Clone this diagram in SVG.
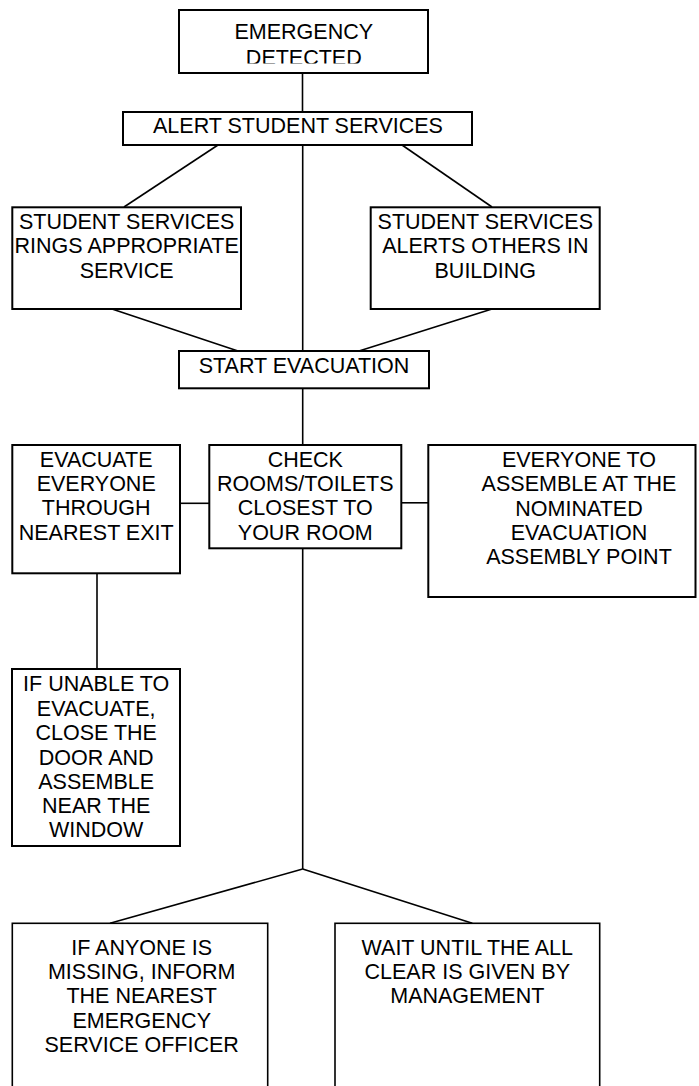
<svg xmlns="http://www.w3.org/2000/svg" width="699" height="1086" viewBox="0 0 699 1086">
<style>
.box{fill:#fff;stroke:#000;stroke-width:2}
.thin{stroke-width:1.6}
.ln{fill:none;stroke:#000;stroke-width:1.6}
text{font-family:"Liberation Sans",Arial,Helvetica,sans-serif;font-size:21.5px;fill:#000;text-anchor:middle}
</style>
<defs>
<clipPath id="clipTop"><rect x="179" y="10" width="249" height="53.5"/></clipPath>
</defs>
<rect width="699" height="1086" fill="#fff"/>
<g id="connectors">
<line class="ln" x1="302.5" y1="73" x2="302.5" y2="112"/>
<line class="ln" x1="218" y1="145" x2="124" y2="207"/>
<line class="ln" x1="302.7" y1="145" x2="302.7" y2="351"/>
<line class="ln" x1="402" y1="145" x2="492" y2="207"/>
<line class="ln" x1="112" y1="309" x2="238" y2="351"/>
<line class="ln" x1="492" y1="309" x2="359" y2="351"/>
<line class="ln" x1="302.7" y1="388" x2="302.7" y2="445"/>
<line class="ln" x1="180" y1="503.3" x2="209.3" y2="503.3"/>
<line class="ln" x1="401.3" y1="502.8" x2="428.3" y2="502.8"/>
<line class="ln" x1="97" y1="573" x2="97" y2="669"/>
<line class="ln" x1="302.7" y1="548" x2="302.7" y2="869"/>
<line class="ln" x1="302.7" y1="869" x2="110" y2="923.3"/>
<line class="ln" x1="302.7" y1="869" x2="472.3" y2="923.3"/>
</g>
<g id="emergency">
<rect class="box" x="179" y="10" width="249" height="63"/>
<g clip-path="url(#clipTop)">
<text x="303.8" y="39.3">EMERGENCY</text>
<text x="303.8" y="65">DETECTED</text>
</g>
</g>
<g id="alert">
<rect class="box" x="123" y="112" width="349" height="33"/>
<text x="298" y="133.3">ALERT STUDENT SERVICES</text>
</g>
<g id="rings">
<rect class="box" x="12.3" y="207.3" width="228.7" height="101.7"/>
<text x="126.7" y="229">STUDENT SERVICES</text>
<text x="126.7" y="253.3">RINGS APPROPRIATE</text>
<text x="126.7" y="277.5">SERVICE</text>
</g>
<g id="alerts-others">
<rect class="box" x="370.7" y="207.3" width="229" height="101.7"/>
<text x="485.3" y="229">STUDENT SERVICES</text>
<text x="485.3" y="253.3">ALERTS OTHERS IN</text>
<text x="485.3" y="277.5">BUILDING</text>
</g>
<g id="start">
<rect class="box" x="179" y="351" width="250" height="37.3"/>
<text x="304" y="372.7">START EVACUATION</text>
</g>
<g id="evacuate">
<rect class="box" x="12.3" y="445" width="167.7" height="128.3"/>
<text x="96.2" y="466.7">EVACUATE</text>
<text x="96.2" y="491">EVERYONE</text>
<text x="96.2" y="515.3">THROUGH</text>
<text x="96.2" y="540">NEAREST EXIT</text>
</g>
<g id="check">
<rect class="box" x="209.3" y="445" width="192" height="103.3"/>
<text x="305.3" y="466.7">CHECK</text>
<text x="305.3" y="491">ROOMS/TOILETS</text>
<text x="305.3" y="515.3">CLOSEST TO</text>
<text x="305.3" y="540">YOUR ROOM</text>
</g>
<g id="assemble">
<rect class="box" x="428.3" y="445" width="267.2" height="152"/>
<text x="579" y="466.7">EVERYONE TO</text>
<text x="579" y="491">ASSEMBLE AT THE</text>
<text x="579" y="515.5">NOMINATED</text>
<text x="579" y="540">EVACUATION</text>
<text x="579" y="564.3">ASSEMBLY POINT</text>
</g>
<g id="unable">
<rect class="box" x="12" y="669" width="168" height="177"/>
<text x="96.2" y="691">IF UNABLE TO</text>
<text x="96.2" y="715.5">EVACUATE,</text>
<text x="96.2" y="740">CLOSE THE</text>
<text x="96.2" y="764.5">DOOR AND</text>
<text x="96.2" y="788.5">ASSEMBLE</text>
<text x="96.2" y="813">NEAR THE</text>
<text x="96.2" y="837">WINDOW</text>
</g>
<g id="missing">
<rect class="box thin" x="12.3" y="923.3" width="255.4" height="200"/>
<text x="141.7" y="955">IF ANYONE IS</text>
<text x="141.7" y="979">MISSING, INFORM</text>
<text x="141.7" y="1003.3">THE NEAREST</text>
<text x="141.7" y="1028">EMERGENCY</text>
<text x="141.7" y="1052.3">SERVICE OFFICER</text>
</g>
<g id="wait">
<rect class="box thin" x="335" y="923.3" width="264.7" height="200"/>
<text x="467.3" y="955">WAIT UNTIL THE ALL</text>
<text x="467.3" y="979">CLEAR IS GIVEN BY</text>
<text x="467.3" y="1003.3">MANAGEMENT</text>
</g>
</svg>
